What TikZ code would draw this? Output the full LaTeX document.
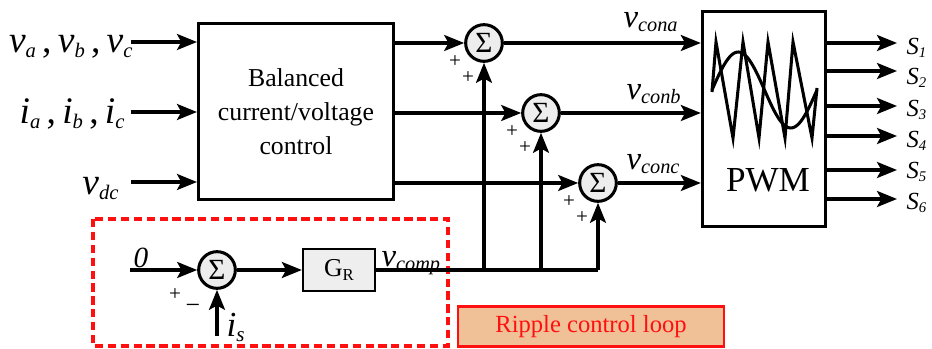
\documentclass[tikz,border=0pt]{standalone}
\usepackage{fontspec}
\setmainfont{Liberation Serif}
\usepackage{graphicx}
\usetikzlibrary{positioning, arrows.meta, calc}
\definecolor{ink}{HTML}{000000}
\definecolor{loopred}{HTML}{FF1010}
\definecolor{loopfill}{HTML}{F0C096}
\definecolor{sumfill}{HTML}{EDEDED}
\definecolor{grfill}{HTML}{EEEEEE}
% italic symbol with a large italic index
\newcommand{\var}[3][0.58]{\textit{#2}\raisebox{-0.12em}{\scalebox{#1}{\textit{#3}}}}

\begin{document}
\begin{tikzpicture}[
  x=0.03cm, y=-0.03cm,
  line width=2.6pt,
  >={Stealth[length=6mm, width=4.8mm, inset=1.3mm]},
  blk/.style={draw=ink, line width=2.6pt, align=center, inner sep=0pt},
  sumnode/.style={circle, draw=ink, line width=2.6pt, fill=sumfill, minimum size=1.1cm,
                  inner sep=0pt, font=\fontsize{25}{25}\selectfont},
  sig/.style={font=\fontsize{32}{32}\selectfont, inner sep=0pt},
  con/.style={font=\fontsize{28}{28}\selectfont, inner sep=0pt},
  sw/.style={font=\fontsize{21}{21}\selectfont, inner sep=0pt},
  pm/.style={font=\fontsize{18}{18}\selectfont, inner sep=0pt},
  arr/.style={->, line width=2.6pt, draw=ink},
  wire/.style={line width=2.6pt, draw=ink},
]
\useasboundingbox (0,0) rectangle (932,349);

% ---------------- Balanced control (left) ----------------
\node[blk, minimum width=5.85cm, minimum height=5.28cm,
      font=\fontsize{22}{29}\selectfont] (ctrl) at (296,111.5)
      {Balanced\\current/voltage\\control};

\coordinate (inv) at (131,42);
\coordinate (ini) at (131,112);
\coordinate (indc) at (131,182);
\node[sig, anchor=base east] (lv) at (134,53) {\var[0.55]{v}{a}\,,\,\var[0.55]{v}{b}\,,\,\var[0.55]{v}{c}};
\node[sig, anchor=base east] (li) at (126,124) {\var[0.55]{i}{a}\,,\,\var[0.55]{i}{b}\,,\,\var[0.55]{i}{c}};
\node[sig, anchor=base east] (ldc) at (120,195) {\var[0.55]{v}{dc}};
\draw[arr] (inv) -- (inv -| ctrl.west);
\draw[arr] (ini) -- (ini -| ctrl.west);
\draw[arr] (indc) -- (indc -| ctrl.west);

% ---------------- summing points ----------------
\node[sumnode] (s1) at (484,43) {Σ};
\node[sumnode] (s2) at (541,113) {Σ};
\node[sumnode] (s3) at (598,183) {Σ};
\draw[arr] (ctrl.east |- s1) -- (s1.west);
\draw[arr] (ctrl.east |- s2) -- (s2.west);
\draw[arr] (ctrl.east |- s3) -- (s3.west);
\foreach \s in {s1,s2,s3}{
  \node[pm] at ($(\s)+(-29,19)$) {+};
  \node[pm] at ($(\s)+(-16,35)$) {+};
}

% ---------------- PWM ----------------
\node[blk, minimum width=3.7cm, minimum height=6.45cm] (pwm) at (764,119) {};
\node[font=\fontsize{30}{30}\selectfont, inner sep=0pt, anchor=base] (pwmtxt) at (768,192) {PWM};
\draw[wire, line join=miter] plot[domain=712:817, samples=60, smooth] (\x, {90-38*sin((\x-712)/105*360)});
\draw[wire, line join=miter] (712,92) -- (716,42) -- (733,138) -- (743,42) -- (759,138)
  -- (768,42) -- (785,138) -- (793,42) -- (812,138) -- (817,88);

\draw[arr] (s1.east) -- (s1 -| pwm.west);
\draw[arr] (s2.east) -- (s2 -| pwm.west);
\draw[arr] (s3.east) -- (s3 -| pwm.west);
\node[con, anchor=base west] (lca) at (622,28) {\var[0.62]{v}{cona}};
\node[con, anchor=base west] (lcb) at (625,100) {\var[0.62]{v}{conb}};
\node[con, anchor=base west] (lcc) at (625,170) {\var[0.62]{v}{conc}};

% switching signals
\foreach \y/\b [count=\i] in {43/55, 71/85, 106/117, 136/148, 170/179, 199/210}{
  \coordinate (o\i) at (897,\y);
  \draw[arr] (pwm.east |- o\i) -- (o\i);
  \node[sw, anchor=base west] (S\i) at (905,\b) {\var[0.6]{S}{\i}};
}

% ---------------- ripple loop (bottom) ----------------
\draw[loopred, line width=2.8pt, dash pattern=on 7pt off 4pt] (93,219) rectangle (448,346);

\node[sumnode] (s4) at (217,270) {Σ};
\node[blk, fill=grfill, line width=2pt, minimum width=2.16cm, minimum height=1.26cm,
      font=\fontsize{22}{22}\selectfont] (gr) at (339,270) {G\raisebox{-0.15em}{\scalebox{0.65}{R}}};
\coordinate (zero) at (130,270);
\coordinate (isin) at (217,336);
\node[font=\fontsize{25}{25}\selectfont\itshape, inner sep=0pt, anchor=base] (lz) at (141,268) {0};
\node[sig, anchor=base west, font=\fontsize{30}{30}\selectfont] (lis) at (225,337) {\var[0.6]{i}{s}};
\node[con, anchor=base west] (lcomp) at (380,267) {\var[0.62]{v}{comp}};
\node[pm] at (175,295) {+};
\node[pm, font=\fontsize{22}{22}\selectfont] at (193,309) {−};
\draw[arr] (zero) -- (s4.west);
\draw[arr] (isin) -- (s4.south);
\draw[arr] (s4.east) -- (gr.west);

\coordinate (j3) at (s3 |- gr.east);
\draw[wire] (gr.east) -- (j3);
\draw[arr] (s1 |- gr.east) -- (s1.south);
\draw[arr] (s2 |- gr.east) -- (s2.south);
\draw[arr] (j3) -- (s3.south);

\node[draw=loopred, fill=loopfill, line width=1.8pt, minimum width=8.0cm, minimum height=1.2cm,
      text=loopred, font=\fontsize{21}{21}\selectfont, inner sep=0pt] (ripple) at (591,326.5) {Ripple control loop};

\end{tikzpicture}
\end{document}
